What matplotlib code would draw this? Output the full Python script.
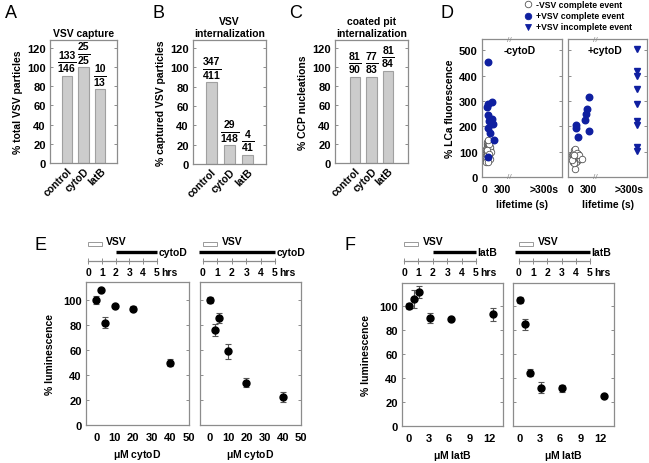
import matplotlib
matplotlib.use("Agg")
import matplotlib.pyplot as plt
import matplotlib.transforms as mtransforms

plt.rcParams['font.family'] = ['Liberation Sans', 'DejaVu Sans']
plt.rcParams['font.weight'] = 'bold'
plt.rcParams['mathtext.fontset'] = 'custom'
plt.rcParams['mathtext.bf'] = 'Liberation Sans:bold'
plt.rcParams['mathtext.rm'] = 'Liberation Sans:bold'

# ---- data ----
treatments = ['control', 'cytoD', 'latB']

capture_num = [133, 25, 10]
capture_den = [146, 25, 13]
intern_num = [347, 29, 4]
intern_den = [411, 148, 41]
ccp_num = [81, 77, 81]
ccp_den = [90, 83, 84]
capture_pct = [91, 100, 77]
intern_pct = [84.4, 19.6, 9.8]
ccp_pct = [90, 90, 96]

# D: lifetime (s) vs % LCa fluorescence
noVSV_left_x = [20, 25, 30, 35, 40, 45, 50, 55, 60, 65, 70, 75, 80, 85, 90, 95,
                100, 105, 30, 45, 55, 65, 75, 40, 50, 60, 85]
noVSV_left_y = [65, 80, 95, 110, 120, 130, 140, 75, 100, 125, 85, 115, 95, 105,
                110, 70, 120, 100, 60, 90, 135, 60, 130, 85, 105, 145, 90]
vsv_left_x = [55, 129, 55, 39, 55, 100, 134, 84, 146, 55, 89, 156, 65]
vsv_left_y = [455, 295, 287, 275, 245, 231, 229, 222, 208, 192, 175, 145, 80]

noVSV_right_x = [30, 40, 50, 60, 70, 80, 90, 100, 110, 120, 60, 75, 95, 130,
                 150, 170, 72, 45, 105, 65, 140, 200, 35, 55]
noVSV_right_y = [85, 75, 90, 80, 70, 95, 85, 75, 65, 80, 105, 110, 60, 90,
                 75, 70, 32, 60, 95, 55, 85, 70, 68, 88]
vsv_right_x = [89, 100, 127, 251, 273, 290, 318, 318]
vsv_right_y = [205, 194, 157, 225, 250, 267, 317, 180]
incomplete_y = [506, 420, 400, 346, 287, 222, 205, 119, 102]
long_lifetime = 1130  # position used for the ">300s" events

# E / F: dose response
cytoD_conc = [0, 2.5, 5, 10, 20, 40]
cytoD_post = [100, 108, 82, 95, 93, 50]
cytoD_post_err = [3, 0, 4.5, 0, 2, 3]
cytoD_pre = [100, 76, 86, 59, 34, 22.5]
cytoD_pre_err = [2.5, 5, 4, 6, 3.5, 4]

latB_conc = [0, 0.78, 1.56, 3.125, 6.25, 12.5]
latB_post = [100, 105.5, 111.5, 90, 89, 93]
latB_post_err = [2.5, 7.5, 5, 4, 0, 5.5]
latB_pre = [104.5, 84.5, 44.5, 32, 31.5, 25]
latB_pre_err = [2.5, 4.5, 3, 4.5, 3, 0.5]

# timelines (hours)
vsv_window = (0, 1)
drug_post = (2, 5)
drug_pre = (-0.25, 5)

W, H = 649, 464
fig = plt.figure(figsize=(W / 100, H / 100), dpi=100)


def px_axes(x0, y0, x1, y1):
    return fig.add_axes([x0 / W, 1 - y1 / H, (x1 - x0) / W, (y1 - y0) / H])


GREY = '#8c8c8c'
BLUE = '#0f1fa0'
TICK = 8


def style(ax, labelsize=TICK):
    for s in ax.spines.values():
        s.set_color(GREY)
        s.set_linewidth(0.9)
    ax.tick_params(direction='in', length=2.5, width=0.7, color=GREY,
                   labelsize=labelsize, right=True, pad=3)
    for lab in ax.get_yticklabels() + ax.get_xticklabels():
        lab.set_fontweight('bold')


def bar_panel(ax, pct, num, den, title, ylabel, xlim):
    ax.bar(range(3), pct, width=0.62, color='#cccccc', edgecolor='#a0a0a0', lw=0.8)
    ax.set_ylim(0, 128)
    ax.set_xlim(*xlim)
    ax.set_yticks(range(0, 121, 20))
    ax.set_xticks(range(3))
    ax.set_xticklabels(treatments, rotation=45, ha='right', rotation_mode='anchor')
    ax.set_title(title, fontsize=7.5, fontweight='bold', pad=3, linespacing=1.25)
    ax.set_ylabel(ylabel, fontsize=7.5, fontweight='bold', labelpad=3)
    style(ax)
    ax.tick_params(axis='x', length=0, pad=2, labelsize=7.5)
    for i in range(3):
        ax.annotate(r"$\overline{\mathbf{%d}}$" % den[i], (i, pct[i]), xytext=(0, 1),
                    textcoords='offset points', ha='center', va='bottom', fontsize=7.5)
        ax.annotate(str(num[i]), (i, pct[i]), xytext=(0, 11.5),
                    textcoords='offset points', ha='center', va='bottom', fontsize=7.5)


axA = px_axes(50, 41, 117, 164)
bar_panel(axA, capture_pct, capture_num, capture_den, 'VSV capture',
          '% total VSV particles', (-1, 3))
axB = px_axes(193, 41, 266, 165)
bar_panel(axB, intern_pct, intern_num, intern_den, 'VSV\ninternalization',
          '% captured VSV particles', (-1, 3))
axC = px_axes(335, 41, 408, 164)
bar_panel(axC, ccp_pct, ccp_num, ccp_den, 'coated pit\ninternalization',
          '% CCP nucleations', (-1.2, 3.2))

# ---- panel D ----
axD1 = px_axes(482, 40, 562, 178)
axD2 = px_axes(568, 40, 647, 178)
for ax, lab in [(axD1, '-cytoD'), (axD2, '+cytoD')]:
    ax.set_xlim(-40, 1300)
    ax.set_ylim(0, 545)
    ax.set_yticks(range(0, 501, 100))
    ax.set_xticks([0, 300, 1000])
    ax.set_xticklabels(['0', '300', '>300s'])
    ax.set_xlabel('lifetime (s)', fontsize=7.5, fontweight='bold', labelpad=4)
    ax.text(0.47, 0.92, lab, transform=ax.transAxes, ha='center', va='center',
            fontsize=7.5, fontweight='bold')
    style(ax)
    ax.tick_params(axis='x', length=0, pad=5, labelsize=7.5)
    tr = mtransforms.blended_transform_factory(ax.transData, ax.transAxes)
    for yy in (0, 1):
        ax.text(420, yy, '//', transform=tr, ha='center', va='center',
                fontsize=6, color=GREY, fontweight='normal')
axD2.tick_params(labelleft=False)
axD1.set_ylabel('% LCa fluorescence', fontsize=7.5, fontweight='bold', labelpad=3)

ms = 4.7
axD1.plot(noVSV_left_x, noVSV_left_y, 'o', mfc='white', mec='#555555', mew=0.6, ms=ms)
axD1.plot(vsv_left_x, vsv_left_y, 'o', color=BLUE, ms=ms)
axD2.plot(noVSV_right_x, noVSV_right_y, 'o', mfc='white', mec='#555555', mew=0.6, ms=ms)
axD2.plot(vsv_right_x, vsv_right_y, 'o', color=BLUE, ms=ms)
axD2.plot([long_lifetime] * len(incomplete_y), incomplete_y, 'v', color=BLUE, ms=ms)

# legend for D
leg_items = [('o', 'white', '#555555', '-VSV complete event'),
             ('o', BLUE, BLUE, '+VSV complete event'),
             ('v', BLUE, BLUE, '+VSV incomplete event')]
for k, (m, fc, ec, txt) in enumerate(leg_items):
    yy = 1 - (5 + 11.5 * k) / H
    fig.lines.append(plt.Line2D([528 / W], [yy], marker=m, mfc=fc, mec=ec, ms=ms,
                                mew=0.6, transform=fig.transFigure, ls=''))
    fig.text(536 / W, yy, txt, fontsize=6.2, fontweight='bold', va='center')

# ---- panels E / F ----
def dose_panel(ax, conc, vals, errs, xlim, ylim, xticks, xlabel, ylabel=None):
    ax.errorbar(conc, vals, yerr=errs, fmt='o', color='black', ms=5,
                ecolor='#555555', elinewidth=0.8, capsize=2, capthick=0.8)
    ax.set_xlim(*xlim)
    ax.set_ylim(*ylim)
    ax.set_xticks(xticks)
    ax.set_yticks(range(0, 101, 20))
    ax.set_xlabel(xlabel, fontsize=7.5, fontweight='bold', labelpad=4)
    style(ax)
    ax.tick_params(axis='x', length=0, pad=5)
    if ylabel:
        ax.set_ylabel(ylabel, fontsize=7.5, fontweight='bold', labelpad=6)
    else:
        ax.tick_params(labelleft=False)


def timeline(x0, x1, drug, drug_name):
    ax = px_axes(x0, 238, x1, 262)
    ax.set_xlim(0, 5)
    ax.set_ylim(0, 1)
    ax.patch.set_visible(False)
    for s in ['top', 'left', 'right']:
        ax.spines[s].set_visible(False)
    ax.spines['bottom'].set_color(GREY)
    ax.spines['bottom'].set_linewidth(0.9)
    ax.set_yticks([])
    ax.set_xticks(range(6))
    ax.tick_params(axis='x', direction='inout', length=4, width=0.7, color=GREY,
                   labelsize=7.5, pad=2)
    for lab in ax.get_xticklabels():
        lab.set_fontweight('bold')
    ax.barh(0.71, vsv_window[1] - vsv_window[0], left=vsv_window[0], height=0.18,
            color='white', edgecolor='#999999', lw=0.7, clip_on=False)
    ax.text(vsv_window[1] + 0.3, 0.82, 'VSV', fontsize=7.5, fontweight='bold',
            va='center', ha='left', clip_on=False)
    ax.hlines(0.375, drug[0], drug[1], color='black', lw=2.4, clip_on=False)
    ax.text(drug[1] + 0.12, 0.375, drug_name, fontsize=7.5, fontweight='bold',
            va='center', ha='left', clip_on=False)
    ax.text(5.3, -0.45, 'hrs', fontsize=7.5, fontweight='bold', va='center',
            ha='left', clip_on=False)


axE1 = px_axes(86, 283, 189, 426)
dose_panel(axE1, cytoD_conc, cytoD_post, cytoD_post_err, (-5.5, 50), (0, 114.5),
           range(0, 51, 10), r'$\mathbf{\mu}$M cytoD', '% luminescence')
axE2 = px_axes(200, 283, 301, 426)
dose_panel(axE2, cytoD_conc, cytoD_pre, cytoD_pre_err, (-5.5, 50), (0, 114.5),
           range(0, 51, 10), r'$\mathbf{\mu}$M cytoD')
timeline(88, 157, drug_post, 'cytoD')
timeline(203, 275, drug_pre, 'cytoD')

axF1 = px_axes(402, 284, 503, 427)
dose_panel(axF1, latB_conc, latB_post, latB_post_err, (-1, 14), (0, 119),
           range(0, 13, 3), r'$\mathbf{\mu}$M latB', '% luminescence')
axF2 = px_axes(513, 284, 614, 427)
dose_panel(axF2, latB_conc, latB_pre, latB_pre_err, (-1, 14), (0, 119),
           range(0, 13, 3), r'$\mathbf{\mu}$M latB')
timeline(404, 476, drug_post, 'latB')
timeline(519, 590, drug_pre, 'latB')

# panel letters
for letter, x, y in [('A', 5, 13), ('B', 153, 13), ('C', 289, 13), ('D', 440, 13),
                     ('E', 34, 246), ('F', 345, 246)]:
    fig.text(x / W, 1 - y / H, letter, fontsize=13, fontweight='normal',
             va='center', ha='left')

fig.savefig('out.png', dpi=100)
